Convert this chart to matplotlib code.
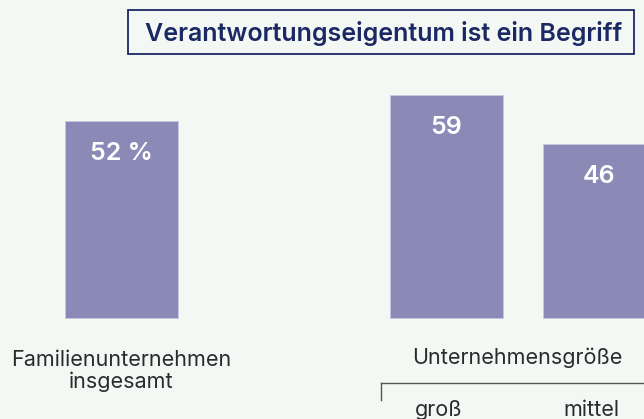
import matplotlib.pyplot as plt
from matplotlib.patches import Rectangle
from matplotlib.lines import Line2D

# data
categories = ["Familienunternehmen\ninsgesamt", "groß", "mittel"]
values = [52, 59, 46]
value_labels = ["52 %", "59", "46"]
group_label = "Unternehmensgröße"
title = "Verantwortungseigentum ist ein Begriff"

bg = "#f4f8f5"
bar_color = "#8b89b6"
navy = "#1b2864"
text_dark = "#2b2b2b"
font = "Inter"

W, H = 644, 419
fig = plt.figure(figsize=(W / 100, H / 100), dpi=100, facecolor=bg)
ax = fig.add_axes([0, 0, 1, 1])
ax.set_facecolor(bg)

# layout: bar centres in units of the 2nd-3rd bar spacing
pos = [0, 2.124, 3.124]
ax.bar(pos, values, width=0.739, color=bar_color, edgecolor="#c9c8e0", linewidth=0.6)
ax.set_xlim(-0.794, 3.415)
ax.set_ylim(-26.7, 84.1)
ax.axis("off")

for x, v, lab in zip(pos, values, value_labels):
    ax.text(x, v - 8.6, lab, ha="center", va="center", color="white",
            fontsize=18, fontweight="semibold", family=font)


def px(x, y):
    return x / W, 1 - y / H


# title box
fig.patches.append(Rectangle(px(128, 54), (634 - 128) / W, 44 / H,
                             transform=fig.transFigure, facecolor="none",
                             edgecolor=navy, linewidth=1.3))
fig.text(*px(384, 33), title, ha="center", va="center", color=navy,
         fontsize=18, fontweight="semibold", family=font)

# category labels
first, *sizes = categories
fig.text(*px(121, 371), first, ha="center", va="center", color=text_dark,
         fontsize=15.5, family=font, linespacing=1.12, multialignment="center")
fig.text(*px(517, 358), group_label, ha="center", va="center", color=text_dark,
         fontsize=15.5, family=font)
for x, lab in zip(pos[1:], sizes):
    xp = 121.5 + x * 153
    fig.text(*px(xp - 8, 410), lab, ha="center", va="center", color=text_dark,
             fontsize=15.5, family=font)

# bracket
fig.add_artist(Line2D([381 / W, 1], [1 - 383 / H] * 2, transform=fig.transFigure,
                      color="#555555", linewidth=1))
fig.add_artist(Line2D([381 / W] * 2, [1 - 383 / H, 1 - 400 / H], transform=fig.transFigure,
                      color="#555555", linewidth=1))

fig.savefig("out.png", dpi=100, facecolor=bg)
